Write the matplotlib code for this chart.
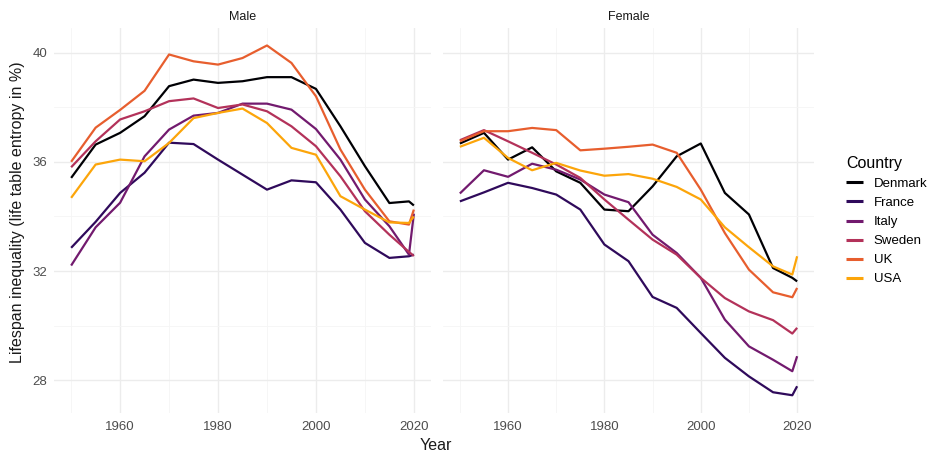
import matplotlib
matplotlib.use("Agg")
import matplotlib.pyplot as plt
import numpy as np

plt.rcParams['font.family'] = ['Liberation Sans', 'DejaVu Sans']

years = [1950, 1955, 1960, 1965, 1970, 1975, 1980, 1985, 1990, 1995, 2000, 2005, 2010, 2015, 2019, 2020]
countries = ["Denmark", "France", "Italy", "Sweden", "UK", "USA"]

# male
male_denmark = [35.41, 36.63, 37.06, 37.67, 38.77, 39.01, 38.89, 38.95, 39.1, 39.1, 38.67, 37.3, 35.84, 34.49, 34.55, 34.4]
male_france = [32.85, 33.8, 34.86, 35.6, 36.7, 36.65, 36.08, 35.53, 34.98, 35.32, 35.25, 34.25, 33.03, 32.48, 32.54, 32.6]
male_italy = [32.2, 33.6, 34.5, 36.2, 37.18, 37.69, 37.79, 38.13, 38.13, 37.91, 37.2, 36.08, 34.62, 33.64, 32.6, 34.1]
male_sweden = [35.8, 36.75, 37.55, 37.85, 38.22, 38.32, 37.97, 38.1, 37.85, 37.3, 36.57, 35.47, 34.19, 33.33, 32.7, 32.55]
male_uk = [36.0, 37.25, 37.9, 38.6, 39.93, 39.68, 39.56, 39.8, 40.26, 39.62, 38.4, 36.45, 34.98, 33.82, 33.7, 34.25]
male_usa = [34.68, 35.9, 36.08, 36.02, 36.69, 37.6, 37.79, 37.95, 37.42, 36.51, 36.26, 34.74, 34.25, 33.78, 33.76, 34.0]

# female
female_denmark = [36.67, 37.06, 36.08, 36.53, 35.65, 35.23, 34.25, 34.19, 35.1, 36.2, 36.67, 34.86, 34.07, 32.11, 31.75, 31.62]
female_france = [34.55, 34.88, 35.23, 35.04, 34.8, 34.25, 32.97, 32.36, 31.05, 30.65, 29.73, 28.82, 28.14, 27.56, 27.45, 27.78]
female_italy = [34.84, 35.69, 35.45, 35.93, 35.71, 35.35, 34.8, 34.52, 33.33, 32.66, 31.75, 30.22, 29.24, 28.75, 28.33, 28.88]
female_sweden = [36.79, 37.16, 36.75, 36.33, 35.9, 35.41, 34.62, 33.88, 33.15, 32.6, 31.75, 31.01, 30.52, 30.2, 29.71, 29.92]
female_uk = [36.75, 37.12, 37.12, 37.24, 37.16, 36.42, 36.48, 36.55, 36.63, 36.33, 34.98, 33.39, 32.05, 31.22, 31.04, 31.38]
female_usa = [36.55, 36.88, 36.14, 35.69, 35.96, 35.68, 35.49, 35.55, 35.38, 35.08, 34.62, 33.6, 32.87, 32.17, 31.87, 32.54]

male = [male_denmark, male_france, male_italy, male_sweden, male_uk, male_usa]
female = [female_denmark, female_france, female_italy, female_sweden, female_uk, female_usa]

colors = plt.cm.inferno(np.linspace(0, 0.8, len(countries)))

W, H = 936, 457
fig = plt.figure(figsize=(W / 100, H / 100), dpi=100)

def px_axes(x0, x1, y0, y1):
    return fig.add_axes([x0 / W, 1 - y1 / H, (x1 - x0) / W, (y1 - y0) / H])

ax_m = px_axes(54, 431, 28, 413)
ax_f = px_axes(443, 814, 28, 413)

for ax, data, title in [(ax_m, male, "Male"), (ax_f, female, "Female")]:
    for name, vals, c in zip(countries, data, colors):
        ax.plot(years, vals, color=c, lw=1.6, label=name, solid_capstyle="butt")
    ax.set_xlim(1946.5, 2023.5)
    ax.set_ylim(26.8, 40.9)
    ax.set_xticks([1960, 1980, 2000, 2020])
    ax.set_yticks([28, 32, 36, 40])
    ax.set_xticks([1950, 1970, 1990, 2010], minor=True)
    ax.set_yticks([30, 34, 38], minor=True)
    ax.grid(which="major", color="#ececec", lw=1.0)
    ax.grid(which="minor", color="#f5f5f5", lw=0.6)
    ax.set_axisbelow(True)
    for s in ax.spines.values():
        s.set_visible(False)
    ax.tick_params(which="both", length=0, labelsize=9.5, labelcolor="#4d4d4d")
    ax.tick_params(axis="x", pad=6)
    ax.tick_params(axis="y", pad=5)
    ax.set_title(title, fontsize=9, color="#1a1a1a", pad=6)

ax_f.set_yticklabels([])

fig.text(436 / W, 1 - 446 / H, "Year", ha="center", va="center", fontsize=11.5, color="#1a1a1a")
fig.text(18 / W, 1 - 212 / H, "Lifespan inequality (life table entropy in %)", ha="center", va="center",
         rotation=90, fontsize=11.5, color="#1a1a1a")

handles, labels = ax_m.get_legend_handles_labels()
leg = fig.legend(handles, labels, title="Country", loc="upper left",
                 bbox_to_anchor=(834 / W, 1 - 144 / H), frameon=False, fontsize=9.5,
                 title_fontsize=11.5, handlelength=1.3, handletextpad=0.8, labelspacing=0.52)
leg._legend_box.align = "left"
for line in leg.get_lines():
    line.set_linewidth(2.2)

fig.savefig("out.png", dpi=100, facecolor="white")
